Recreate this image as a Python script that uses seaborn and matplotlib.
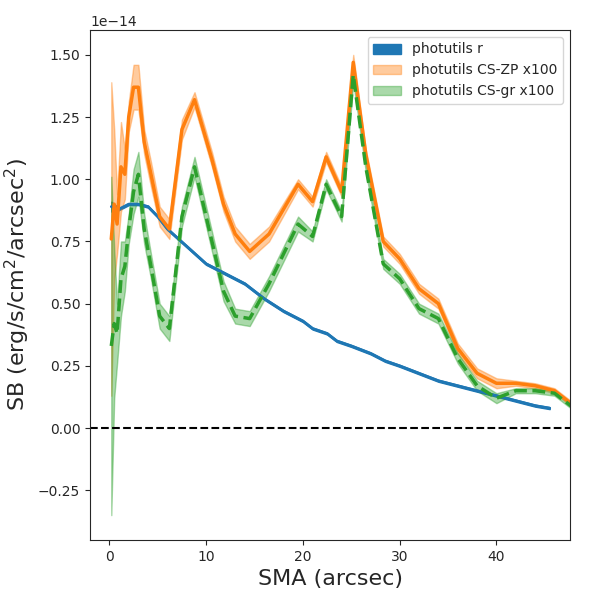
import numpy as np
import pandas as pd
import matplotlib
matplotlib.use('Agg')
import matplotlib.pyplot as plt
import seaborn as sns

sns.set_style("ticks")
plt.rcParams['font.family'] = ['DejaVu Sans']

# ---- data (units of 1e-14) ----
sma_r = [0.2, 1, 2, 3, 4, 5, 6, 8, 10, 12, 14, 16, 18, 20, 21, 22.5, 23.5, 25,
         27, 28.5, 30, 32, 34, 36, 38, 40, 42, 44, 45.5]
sb_r = [0.89, 0.88, 0.90, 0.90, 0.89, 0.85, 0.80, 0.73, 0.66, 0.62, 0.58, 0.52,
        0.47, 0.43, 0.40, 0.38, 0.35, 0.33, 0.30, 0.27, 0.25, 0.22, 0.19, 0.17,
        0.15, 0.13, 0.11, 0.09, 0.08]
err_r = [0.02, 0.004, 0.004, 0.004, 0.004, 0.004, 0.004, 0.004, 0.004, 0.004,
         0.004, 0.004, 0.004, 0.004, 0.004, 0.004, 0.004, 0.004, 0.004, 0.004,
         0.004, 0.004, 0.004, 0.004, 0.004, 0.004, 0.004, 0.004, 0.004]

sma_cs = [0.2, 0.5, 0.8, 1.2, 1.6, 2, 2.5, 3, 3.6, 4.3, 5.2, 6.2, 7.5, 8.8, 10.6,
          11.8, 13, 14.5, 16.5, 19.5, 21, 22.4, 24, 25.2, 26.5, 28.3, 30, 32, 34,
          36, 38, 40, 42, 44, 46, 48]
sb_zp = [0.76, 0.90, 0.82, 1.05, 1.02, 1.25, 1.37, 1.37, 1.15, 1.02, 0.85, 0.80,
         1.20, 1.32, 1.08, 0.90, 0.78, 0.71, 0.78, 0.98, 0.91, 1.09, 0.95, 1.47,
         1.10, 0.75, 0.68, 0.56, 0.50, 0.32, 0.22, 0.18, 0.18, 0.17, 0.15, 0.09]
err_zp = [0.63, 0.30, 0.12, 0.18, 0.10, 0.06, 0.09, 0.09, 0.05, 0.05, 0.04, 0.04,
          0.04, 0.03, 0.03, 0.03, 0.03, 0.03, 0.03, 0.02, 0.02, 0.02, 0.02, 0.03,
          0.02, 0.02, 0.02, 0.02, 0.02, 0.02, 0.02, 0.02, 0.01, 0.01, 0.01, 0.01]
sb_gr = [0.33, 0.42, 0.38, 0.60, 0.65, 0.80, 0.95, 1.02, 0.80, 0.65, 0.45, 0.40,
         0.85, 1.05, 0.75, 0.55, 0.45, 0.44, 0.58, 0.82, 0.77, 0.98, 0.85, 1.42,
         1.05, 0.66, 0.60, 0.48, 0.44, 0.28, 0.17, 0.12, 0.15, 0.15, 0.14, 0.08]
err_gr = [0.68, 0.30, 0.12, 0.15, 0.10, 0.06, 0.09, 0.09, 0.06, 0.05, 0.05, 0.05,
          0.04, 0.04, 0.04, 0.04, 0.03, 0.03, 0.03, 0.03, 0.02, 0.02, 0.02, 0.03,
          0.02, 0.02, 0.02, 0.02, 0.02, 0.02, 0.02, 0.02, 0.01, 0.01, 0.01, 0.01]

scale = 1e-14
sr = np.array(sb_r) * scale
er = np.array(err_r) * scale
zp = np.array(sb_zp) * scale
ezp = np.array(err_zp) * scale
gr = np.array(sb_gr) * scale
egr = np.array(err_gr) * scale

fig, ax = plt.subplots(figsize=(6, 6), dpi=100)

ax.fill_between(sma_r, sr - er, sr + er, color='C0', label='photutils r')
ax.fill_between(sma_cs, zp - ezp, zp + ezp, color='C1', alpha=0.4,
                label='photutils CS-ZP x100')
ax.fill_between(sma_cs, gr - egr, gr + egr, color='C2', alpha=0.4,
                label='photutils CS-gr x100')

sns.lineplot(x=sma_r, y=sr, ax=ax, color='C0', lw=2)
sns.lineplot(x=sma_cs, y=zp, ax=ax, color='C1', lw=2.5)
sns.lineplot(x=sma_cs, y=gr, ax=ax, color='C2', lw=2.5, linestyle='--')
ax.axhline(0, color='k', ls='--', lw=1.5)

ax.set_xlim(-2, 47.6)
ax.set_ylim(-0.45e-14, 1.6e-14)
ax.set_xlabel('SMA (arcsec)', fontsize=16)
ax.set_ylabel(r'SB (erg/s/cm$^2$/arcsec$^2$)', fontsize=16)
ax.legend(loc='upper right')

plt.subplots_adjust(left=0.15, right=0.95, bottom=0.1, top=0.95)
plt.savefig('out.png', dpi=100)
